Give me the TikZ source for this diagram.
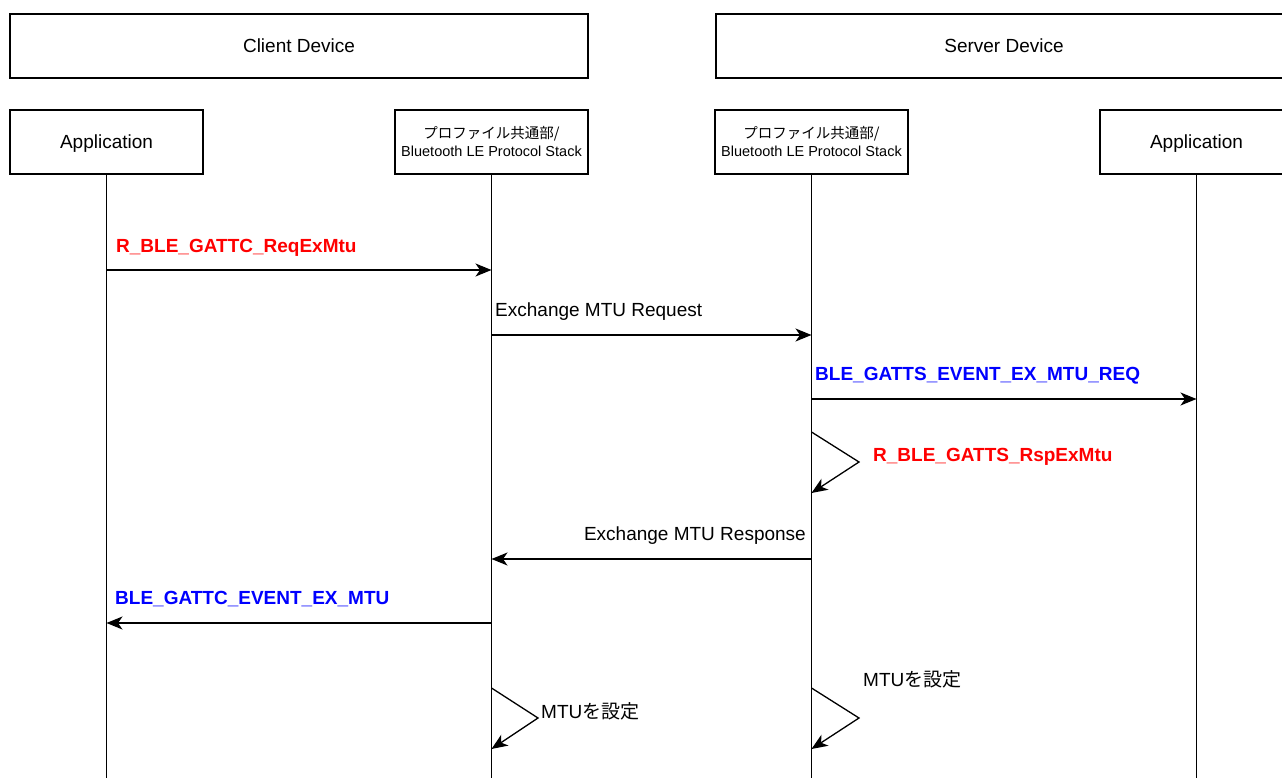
\documentclass[tikz,border=0pt]{standalone}
\usepackage{fontspec}
\setmainfont{Liberation Sans}
\newfontfamily\jpfont{Noto Sans CJK JP}
\usetikzlibrary{arrows.meta}

\begin{document}
\begin{tikzpicture}[x=1pt,y=-1pt,
    box/.style={draw,line width=1.3pt,minimum height=64pt,inner sep=0pt,text depth=0pt,
        font=\fontsize{19}{22}\selectfont},
    stackbox/.style={box,minimum width=193pt,align=center,text depth=,
        font=\fontsize{14.5}{18}\selectfont},
    life/.style={line width=1.3pt},
    msg/.style={line width=1.3pt,-{Stealth[length=16pt,width=13pt,inset=4.5pt]}},
    lbl/.style={inner sep=0pt,text depth=0pt,font=\fontsize{19}{22}\selectfont},
    call/.style={lbl,text=red,font=\fontsize{19}{22}\selectfont\bfseries},
    event/.style={lbl,text=blue,font=\fontsize{19}{22}\selectfont\bfseries}]
    \useasboundingbox (0,0) rectangle (1282,778);

    % devices
    \node[box,minimum width=578pt] (client) at (299,46) {Client Device};
    \node[box,minimum width=576pt] (server) at (1004,46) {Server Device};

    % lifeline heads
    \node[box,minimum width=193pt] (app1) at (106.5,142) {Application};
    \node[stackbox] (stk1) at (491.5,142) {{\jpfont プロファイル共通部/}\\Bluetooth LE Protocol Stack};
    \node[stackbox] (stk2) at (811.5,142) {{\jpfont プロファイル共通部/}\\Bluetooth LE Protocol Stack};
    \node[box,minimum width=193pt] (app2) at (1196.5,142) {Application};

    \coordinate (bottom) at (0,778);
    \foreach \n in {app1,stk1,stk2,app2}
        \draw[life] (\n.south) -- (\n |- bottom);

    % messages
    \coordinate (m1) at (0,270);
    \coordinate (m2) at (0,335);
    \coordinate (m3) at (0,399);
    \coordinate (m4) at (0,559);
    \coordinate (m5) at (0,623);
    \draw[msg] (app1 |- m1) -- (stk1 |- m1);
    \draw[msg] (stk1 |- m2) -- (stk2 |- m2);
    \draw[msg] (stk2 |- m3) -- (app2 |- m3);
    \draw[msg] (stk2 |- m4) -- (stk1 |- m4);
    \draw[msg] (stk1 |- m5) -- (app1 |- m5);

    \node[call,anchor=west] (reqexmtu) at (116,246) {R\_BLE\_GATTC\_ReqExMtu};
    \node[lbl,anchor=west] (exreq) at (495,310) {Exchange MTU Request};
    \node[event,anchor=west] (evreq) at (815,374) {BLE\_GATTS\_EVENT\_EX\_MTU\_REQ};
    \node[lbl,anchor=east] (exrsp) at (806,534) {Exchange MTU Response};
    \node[event,anchor=west] (evmtu) at (115,598) {BLE\_GATTC\_EVENT\_EX\_MTU};

    % self calls
    \coordinate (rspA) at (811.5,432);
    \coordinate (rspB) at (859,462);
    \coordinate (rspC) at (811.5,493);
    \draw[msg] (rspA) -- (rspB) -- (rspC);
    \node[call,anchor=west] (rspexmtu) at (873,455) {R\_BLE\_GATTS\_RspExMtu};

    \coordinate (setA) at (491.5,688);
    \coordinate (setB) at (538,718);
    \coordinate (setC) at (491.5,749);
    \draw[msg] (setA) -- (setB) -- (setC);
    \node[lbl,anchor=west] (set1) at (541,711) {MTU{\jpfont を設定}};

    \coordinate (srvA) at (811.5,688);
    \coordinate (srvB) at (859,718);
    \coordinate (srvC) at (811.5,749);
    \draw[msg] (srvA) -- (srvB) -- (srvC);
    \node[lbl,anchor=west] (set2) at (863,679) {MTU{\jpfont を設定}};
\end{tikzpicture}
\end{document}
